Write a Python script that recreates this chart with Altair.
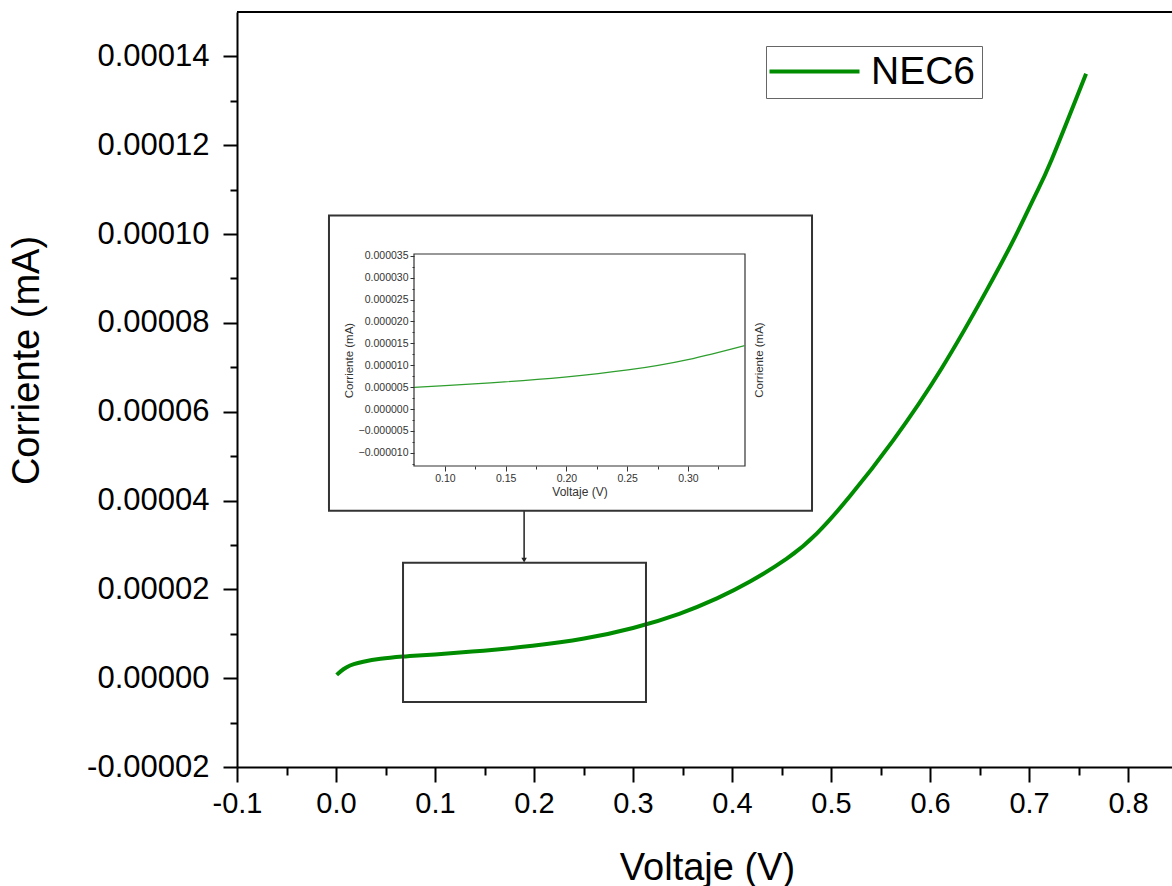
import altair as alt
import pandas as pd

# ---- data ----
voltaje = [0.0007, 0.005, 0.0108, 0.018, 0.0276, 0.045, 0.0674, 0.0745, 0.10, 0.149,
           0.1985, 0.2506, 0.30, 0.3467, 0.3848, 0.4182, 0.4553, 0.4855,
           0.5192, 0.5626, 0.6118, 0.6573, 0.6859, 0.7061, 0.7229, 0.7576]
corriente = [0.73e-6, 1.6e-6, 2.47e-6, 3.15e-6, 3.7e-6, 4.35e-6, 4.86e-6, 4.97e-6, 5.35e-6,
             6.2e-6, 7.3e-6, 8.93e-6, 11.3e-6, 14.5e-6, 17.97e-6, 21.76e-6,
             26.9e-6, 32.55e-6, 41.0e-6, 53.5e-6, 69.8e-6, 87.38e-6, 99.37e-6,
             108.65e-6, 116.8e-6, 136.1e-6]
serie = ["NEC6"] * len(voltaje)

x_major = [-0.1, 0.0, 0.1, 0.2, 0.3, 0.4, 0.5, 0.6, 0.7, 0.8]
x_minor = [-0.05, 0.05, 0.15, 0.25, 0.35, 0.45, 0.55, 0.65, 0.75]
y_major = [-0.00002, 0.0, 0.00002, 0.00004, 0.00006, 0.00008, 0.0001, 0.00012, 0.00014]
y_minor = [-0.00001, 0.00001, 0.00003, 0.00005, 0.00007, 0.00009, 0.00011, 0.00013]

ix_major = [0.10, 0.15, 0.20, 0.25, 0.30]
ix_minor = [0.125, 0.175, 0.225, 0.275, 0.325]
iy_major = [-0.00001, -0.000005, 0.0, 0.000005, 0.00001, 0.000015, 0.00002, 0.000025,
            0.00003, 0.000035]
iy_minor = [-0.0000125, -0.0000075, -0.0000025, 0.0000025, 0.0000075, 0.0000125,
            0.0000175, 0.0000225, 0.0000275, 0.0000325]

# domains
x_dom = [-0.1, 0.8444]
y_dom = [-0.00002, 0.00015]
ix_dom = [0.0745, 0.347]
iy_dom = [-0.000013, 0.0000354]

# annotation anchors (data units)
zoom_v = [0.0677, 0.3131]
zoom_i = [-5.35e-6, 25.97e-6]
box_v = [-0.0071, 0.4808]
box_i = [37.69e-6, 104.17e-6]
arrow_v = 0.19
arrow_i = [37.69e-6, 26.6e-6]

df = pd.DataFrame({"V": voltaje, "I": corriente, "serie": serie})
one = alt.Data(values=[{"k": 0}])
FONT = "Liberation Sans"


def cond(expr, yes, no):
    return {"condition": {"test": expr, "value": yes}, "value": no}


def signed(fmt):
    return "(datum.value < 0 ? '-' : '') + format(abs(datum.value), '%s')" % fmt


x_test = "round(datum.value*20) % 2 == 0"
y_test = "round(datum.value*1e5) % 2 == 0"
ix_test = "round(datum.value*40) % 2 == 0"

X = alt.X("V:Q",
          scale=alt.Scale(domain=x_dom, nice=False, zero=False),
          axis=alt.Axis(orient="bottom", values=x_major + x_minor,
                        labelExpr="%s ? %s : ''" % (x_test, signed(".1f")),
                        tickSize=cond(x_test, 15, 8), tickWidth=2, tickColor="black",
                        domainWidth=2, domainColor="black",
                        labelFont=FONT, labelFontSize=29, labelColor="black",
                        labelPadding=7, labelFlush=False, labelOverlap=False,
                        title="Voltaje (V)", titleFont=FONT, titleFontSize=38,
                        titleFontWeight="normal", titleColor="black",
                        titleX=470, titleY=112, titleBaseline="alphabetic",
                        titleAlign="center", grid=False))
Y = alt.Y("I:Q",
          scale=alt.Scale(domain=y_dom, nice=False, zero=False),
          axis=alt.Axis(orient="left", values=y_major + y_minor,
                        labelExpr="%s ? %s : ''" % (y_test, signed(".5f")),
                        tickSize=cond(y_test, 14, 7), tickWidth=2, tickColor="black",
                        domainWidth=2, domainColor="black",
                        labelFont=FONT, labelFontSize=31, labelColor="black",
                        labelPadding=14, labelFlush=False, labelOverlap=False,
                        title="Corriente (mA)", titleFont=FONT, titleFontSize=38,
                        titleFontWeight="normal", titleColor="black",
                        titleX=-199, titleY=348, titleBaseline="alphabetic",
                        titleAlign="center", titleAngle=270, grid=False))

curve = alt.Chart(df).mark_line(strokeWidth=4, interpolate="natural").encode(
    x=X, y=Y,
    color=alt.Color("serie:N", scale=alt.Scale(range=["#008c00"]),
                    legend=alt.Legend(orient="none", legendX=529, legendY=34, title=None,
                                      strokeColor="#666666", padding=6,
                                      symbolType="M-4.4,0H13.6", symbolSize=100,
                                      symbolStrokeWidth=4, labelOffset=60,
                                      labelFont=FONT, labelFontSize=39,
                                      labelColor="black")))

zoom_rect = alt.Chart(one).mark_rect(fill="transparent", stroke="#333333",
                                     strokeWidth=2).encode(
    x=alt.datum(zoom_v[0]), x2=alt.datum(zoom_v[1]),
    y=alt.datum(zoom_i[0]), y2=alt.datum(zoom_i[1]))

outer_box = alt.Chart(one).mark_rect(fill="white", stroke="#333333",
                                     strokeWidth=2).encode(
    x=alt.datum(box_v[0]), x2=alt.datum(box_v[1]),
    y=alt.datum(box_i[0]), y2=alt.datum(box_i[1]))

arrow_rule = alt.Chart(one).mark_rule(color="#222222", strokeWidth=1.5).encode(
    x=alt.datum(arrow_v), y=alt.datum(arrow_i[0]), y2=alt.datum(arrow_i[1]))

arrow_head = alt.Chart(one).mark_point(shape="triangle-down", filled=True, size=30,
                                       color="#222222", opacity=1).encode(
    x=alt.datum(arrow_v), y=alt.datum(arrow_i[1]))

top_border = alt.Chart(one).mark_rule(color="black", strokeWidth=2).encode(
    x=alt.datum(x_dom[0]), x2=alt.datum(x_dom[1]), y=alt.datum(y_dom[1]))

main = alt.layer(curve, zoom_rect, arrow_rule, arrow_head, outer_box, top_border)

# ---- inset ----
ix_scale = alt.Scale(domain=ix_dom, nice=False, zero=False, range=[177, 508])
iy_scale = alt.Scale(domain=iy_dom, nice=False, zero=False, range=[454, 242])

IX = alt.X("V:Q", scale=ix_scale,
           axis=alt.Axis(orient="bottom", offset=-301, values=ix_major + ix_minor,
                         labelExpr="%s ? %s : ''" % (ix_test, signed(".2f")),
                         tickSize=cond(ix_test, 5, 3), tickWidth=1, tickColor="#333333",
                         domain=False, labelFont=FONT, labelFontSize=10.5,
                         labelColor="#333333", labelPadding=2, labelFlush=False,
                         labelOverlap=False, title="Voltaje (V)", titleFont=FONT,
                         titleFontSize=12, titleFontWeight="normal", titleColor="#333333",
                         titlePadding=3, grid=False, zindex=2))
IY = alt.Y("I:Q", scale=iy_scale,
           axis=alt.Axis(orient="left", offset=-177, values=iy_major, format=".6f",
                         tickSize=4, tickWidth=1, tickColor="#333333",
                         domain=False, labelFont=FONT, labelFontSize=10.5,
                         labelColor="#333333", labelPadding=2, labelFlush=False,
                         labelOverlap=False, title="Corriente (mA)",
                         titleFont=FONT, titleFontSize=11.5, titleFontWeight="normal",
                         titleColor="#333333", titlePadding=4, grid=False, zindex=2))
IY_minor = alt.Y("I:Q", scale=iy_scale,
                 axis=alt.Axis(orient="left", offset=-177, values=iy_minor, labels=False,
                               tickSize=2, tickWidth=1, tickColor="#333333", domain=False,
                               title=None, grid=False, zindex=2))

inset_filter = (alt.datum.V >= ix_dom[0]) & (alt.datum.V <= ix_dom[1])

inset_curve = alt.Chart(df).transform_filter(inset_filter).mark_line(
    color="#2e9e2e", strokeWidth=1.2, interpolate="natural").encode(x=IX, y=IY)

inset_frame = alt.Chart(one).mark_rect(fill="transparent", stroke="#333333",
                                       strokeWidth=1.2).encode(
    x=alt.datum(ix_dom[0]), x2=alt.datum(ix_dom[1]),
    y=alt.datum(iy_dom[0]), y2=alt.datum(iy_dom[1]))

inset_right_title = alt.Chart(one).mark_text(
    text="Corriente (mA)", angle=270, font=FONT, fontSize=11.5, color="#333333",
    align="center", baseline="middle").encode(
    x=alt.datum(0.3593), y=alt.datum(11.2e-6))

inset = alt.layer(inset_frame, inset_curve, inset_right_title)

# carries only the minor ticks of the inset's y axis
inset_minor = alt.Chart(df).transform_filter(inset_filter).mark_line(
    opacity=0, interpolate="natural").encode(
    x=alt.X("V:Q", scale=ix_scale, axis=None), y=IY_minor)

chart = alt.layer(main, inset, inset_minor).resolve_scale(
    x="independent", y="independent").resolve_axis(
    x="independent", y="independent").properties(
    width=935, height=755,
    autosize=alt.AutoSizeParams(type="none"),
    padding={"left": 237, "top": 12, "right": 0, "bottom": 119},
    background="white",
).configure_view(strokeWidth=0).configure_axis(grid=False)

chart.save("out.html", embed_options={"renderer": "svg", "actions": False})
